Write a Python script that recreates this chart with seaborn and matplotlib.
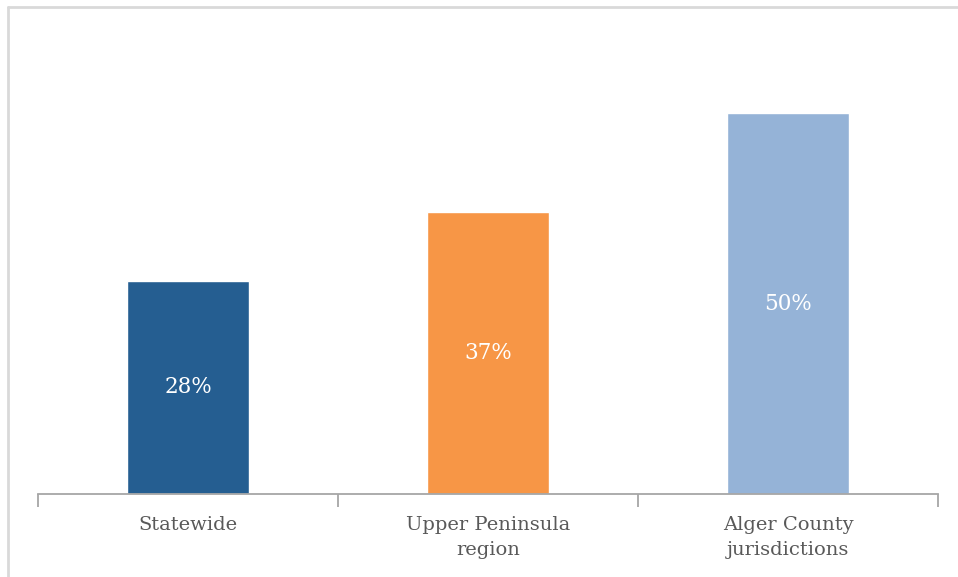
import numpy as np
import pandas as pd
import seaborn as sns
import matplotlib.pyplot as plt
from matplotlib.lines import Line2D

categories = ["Statewide", "Upper Peninsula\nregion", "Alger County\njurisdictions"]
values = [28, 37, 50]
bar_colors = ["#255E91", "#F79646", "#95B3D7"]

df = pd.DataFrame({"group": categories, "pct": values})

sns.set_style("white")
plt.rcParams["font.family"] = ["DejaVu Serif"]

fig = plt.figure(figsize=(9.58, 5.77), dpi=100)
ax = fig.add_axes([38 / 958, (577 - 494) / 577, 900 / 958, 457 / 577])

sns.barplot(data=df, x="group", y="pct", hue="group", palette=bar_colors,
            width=0.405, legend=False, saturation=1, ax=ax)

ax.set_xlim(-0.5, 2.5)
ax.set_ylim(0, 60)
ax.set_xlabel("")
ax.set_ylabel("")
ax.set_yticks([])
for side in ["top", "right", "left"]:
    ax.spines[side].set_visible(False)
ax.spines["bottom"].set_color("#A6A6A6")
ax.spines["bottom"].set_linewidth(1.3)

# category dividers as minor ticks
ax.set_xticks(np.arange(-0.5, 3, 1), minor=True)
ax.tick_params(axis="x", which="minor", bottom=True, length=9, width=1.3,
               color="#A6A6A6", direction="out")
ax.tick_params(axis="x", which="major", length=0, pad=16, labelsize=14, labelcolor="#595959")
for lbl in ax.get_xticklabels():
    lbl.set_linespacing(1.45)
    lbl.set_va("top")

# value labels in the middle of each bar
for i, v in enumerate(values):
    ax.text(i, v / 2, f"{v}%", ha="center", va="center", color="white", fontsize=15.5)

# light chart border
fig.add_artist(Line2D([8 / 958, 1.02], [1 - 7 / 577, 1 - 7 / 577], color="#D9D9D9", lw=2,
                      transform=fig.transFigure))
fig.add_artist(Line2D([8 / 958, 8 / 958], [-0.02, 1 - 7 / 577], color="#D9D9D9", lw=2,
                      transform=fig.transFigure))

fig.savefig("out.png", dpi=100, facecolor="white")
